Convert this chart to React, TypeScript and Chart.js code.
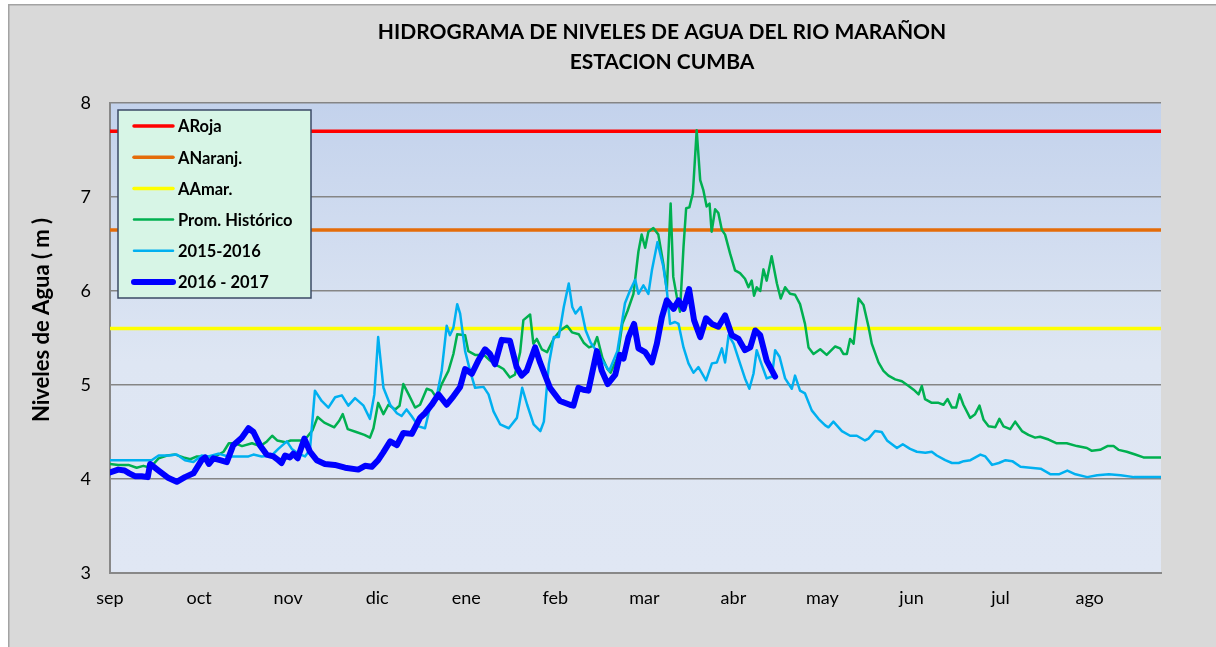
import React, { useEffect, useRef } from 'react';
import { Chart, registerables } from 'chart.js';

Chart.register(...registerables);

const W = 1216;
const H = 647;

const titleLines = ['HIDROGRAMA DE NIVELES DE AGUA DEL RIO MARAÑON', 'ESTACION CUMBA'];
const yAxisTitle = 'Niveles de Agua ( m )';
const monthLabels = ['sep', 'oct', 'nov', 'dic', 'ene', 'feb', 'mar', 'abr', 'may', 'jun', 'jul', 'ago'];
const daysPerMonthTick = 30.42;
const xMaxDay = 359;

const seriesNames = ['ARoja', 'ANaranj.', 'AAmar.', 'Prom. Histórico', '2015-2016', '2016 - 2017'];
const alertRoja = 7.7;
const alertNaranja = 6.65;
const alertAmarilla = 5.6;

// [day since 1 sep, level m]
const promHistorico: [number, number][] = [
  [0, 4.16], [2.8, 4.15], [6.3, 4.15], [9.1, 4.12], [11.4, 4.14], [13.7, 4.12], [16.6, 4.22], [19.5, 4.25],
  [22.3, 4.26], [25.1, 4.23], [27.4, 4.21], [29.7, 4.24], [32.6, 4.24], [36, 4.24], [38.8, 4.29], [40.6, 4.38],
  [42.8, 4.38], [45.1, 4.35], [48.5, 4.38], [51.3, 4.35], [53.6, 4.40], [55.4, 4.46], [57.1, 4.41], [59.9, 4.39],
  [61.7, 4.41], [65.7, 4.41], [67.4, 4.45], [69.2, 4.52], [70.9, 4.66], [73.2, 4.60], [76.6, 4.55], [78.3, 4.62],
  [79.5, 4.69], [81.2, 4.53], [84.1, 4.50], [86.9, 4.47], [88.8, 4.44], [90, 4.54], [91.6, 4.81], [93.4, 4.69],
  [95.1, 4.79], [97.4, 4.74], [98.9, 4.78], [100.2, 5.01], [102, 4.90], [104.2, 4.76], [105.9, 4.79], [108.2, 4.96],
  [109.9, 4.94], [111.6, 4.86], [113.3, 5.01], [115.6, 5.15], [117.3, 5.33], [118.6, 5.54], [121.3, 5.53], [122.4, 5.36],
  [124.7, 5.32], [126.4, 5.32], [128.1, 5.31], [129.8, 5.26], [132.7, 5.20], [134.4, 5.17], [136.6, 5.08], [138.3, 5.11],
  [140.1, 5.35], [141.2, 5.69], [143.5, 5.75], [144.6, 5.44], [145.8, 5.49], [147.5, 5.38], [149.3, 5.35], [151.5, 5.49],
  [153.8, 5.58], [156.1, 5.63], [157.8, 5.56], [160.1, 5.54], [161.8, 5.45], [163.6, 5.40], [165.3, 5.42], [166.4, 5.51],
  [168.2, 5.29], [169.9, 5.17], [171, 5.13], [173.3, 5.29], [175, 5.65], [176.8, 5.79], [178.8, 5.97], [180.5, 6.42],
  [181.6, 6.60], [182.8, 6.46], [183.9, 6.63], [185.6, 6.67], [187.3, 6.60], [189, 6.29], [190.2, 6.01], [191.5, 6.93],
  [192.4, 6.15], [193.6, 5.94], [194.7, 5.78], [195.9, 6.47], [196.8, 6.88], [197.9, 6.89], [199.1, 7.04], [200.4, 7.71],
  [201.6, 7.18], [202.7, 7.07], [203.8, 6.90], [204.8, 6.93], [205.5, 6.63], [206.7, 6.87], [207.8, 6.83], [209, 6.65],
  [210.1, 6.60], [211.8, 6.40], [213.5, 6.22], [215.2, 6.19], [216.9, 6.13], [218.1, 6.04], [219.2, 6.11], [220, 5.95],
  [220.9, 6.04], [222.1, 6.00], [223.2, 6.23], [224.3, 6.11], [226, 6.37], [227.8, 6.08], [229.1, 5.92], [230.6, 6.04],
  [232.3, 5.97], [234, 5.96], [235.7, 5.86], [237.4, 5.65], [238.6, 5.40], [240.3, 5.33], [242.6, 5.38], [244.8, 5.32],
  [247.7, 5.41], [249.4, 5.39], [250.5, 5.33], [251.7, 5.33], [252.8, 5.49], [254, 5.44], [255.7, 5.92], [257.4, 5.85],
  [259.1, 5.62], [260.2, 5.44], [262.5, 5.24], [264.2, 5.15], [265.9, 5.10], [268.2, 5.06], [270.5, 5.04], [272.8, 4.99],
  [274.5, 4.95], [276.2, 4.90], [277.3, 4.99], [278.4, 4.85], [280.7, 4.81], [283, 4.81], [284.7, 4.79], [286.1, 4.85],
  [287.6, 4.76], [289, 4.76], [290.2, 4.90], [291.5, 4.79], [293.8, 4.65], [295.5, 4.69], [297, 4.78], [298.4, 4.63],
  [300.1, 4.56], [302.4, 4.55], [303.8, 4.64], [305.2, 4.56], [307.5, 4.53], [309.2, 4.61], [311.5, 4.51], [313.7, 4.47],
  [316, 4.44], [317.7, 4.45], [320.6, 4.42], [323.4, 4.38], [326.8, 4.38], [330.3, 4.35], [333.7, 4.33], [335.4, 4.30],
  [338.2, 4.31], [340.7, 4.35], [342.8, 4.35], [344.5, 4.31], [347.3, 4.29], [350.2, 4.26], [353, 4.23], [359.1, 4.23],
];

const serie2015_2016: [number, number][] = [
  [0, 4.20], [14.2, 4.20], [16.6, 4.25], [20, 4.25], [22.8, 4.26], [25.6, 4.20], [28.5, 4.18], [31.3, 4.25],
  [33.6, 4.24], [37, 4.27], [40.4, 4.24], [43.8, 4.24], [47.3, 4.24], [49, 4.26], [51.8, 4.24], [55.2, 4.25],
  [57.5, 4.32], [60.4, 4.40], [62.1, 4.32], [64.3, 4.27], [66.6, 4.24], [68.3, 4.31], [70, 4.94], [72.3, 4.83],
  [74.6, 4.76], [76.9, 4.87], [79.2, 4.89], [81.4, 4.78], [83.7, 4.86], [86.6, 4.78], [88.8, 4.64], [90.3, 4.90],
  [91.6, 5.51], [93.4, 4.97], [95.7, 4.79], [98, 4.70], [99.6, 4.67], [101.3, 4.74], [103, 4.67], [105.4, 4.56],
  [107.6, 4.54], [109.3, 4.76], [111.6, 4.88], [113.3, 5.15], [115, 5.63], [116.1, 5.53], [117.3, 5.61], [118.6, 5.86],
  [119.6, 5.76], [121.3, 5.36], [123, 5.15], [124.7, 4.97], [127.6, 4.98], [129.3, 4.90], [131, 4.72], [133.3, 4.58],
  [136.2, 4.54], [139, 4.65], [140.8, 4.97], [142.5, 4.79], [144.7, 4.58], [147, 4.51], [148.2, 4.61], [149.9, 5.22],
  [151.6, 5.51], [153.3, 5.51], [155, 5.83], [156.7, 6.08], [157.9, 5.83], [159, 5.76], [160.8, 5.83], [162.5, 5.58],
  [164.2, 5.45], [166.5, 5.35], [168.2, 5.26], [170.5, 5.15], [173.3, 5.36], [175.9, 5.87], [177.7, 6.01], [179.4, 6.12],
  [180.5, 5.97], [182.2, 6.06], [183.9, 5.97], [185.1, 6.22], [187, 6.52], [189, 6.26], [190.2, 6.01], [191.3, 5.65],
  [193, 5.67], [194.2, 5.65], [195.9, 5.40], [197.6, 5.23], [199.3, 5.13], [201, 5.19], [203.6, 5.05], [205.6, 5.23],
  [207.3, 5.24], [209, 5.39], [210.1, 5.24], [211.3, 5.53], [213, 5.44], [215.2, 5.23], [216.9, 5.07], [218.4, 4.96],
  [219.8, 5.12], [220.9, 5.37], [222.1, 5.26], [224.3, 5.07], [226.1, 5.09], [227.2, 5.37], [228.7, 5.30], [230.6, 5.07],
  [232.9, 4.96], [234, 5.10], [235.7, 4.94], [237.4, 4.91], [239.7, 4.73], [242, 4.64], [244.3, 4.57], [245.4, 4.55],
  [247.1, 4.61], [250, 4.51], [252.8, 4.46], [255.1, 4.46], [257.9, 4.41], [259.1, 4.43], [261.3, 4.51], [263.6, 4.50],
  [265.4, 4.41], [268.8, 4.33], [270.8, 4.37], [273.3, 4.32], [275.6, 4.29], [278.5, 4.28], [280.7, 4.29], [282.4, 4.25],
  [285.3, 4.20], [287.6, 4.17], [289.9, 4.17], [291.6, 4.19], [293.9, 4.20], [297.3, 4.26], [299, 4.24], [301.3, 4.15],
  [303.6, 4.17], [305.9, 4.20], [308.2, 4.19], [311, 4.13], [314.4, 4.12], [317.9, 4.11], [321.3, 4.05], [324.1, 4.05],
  [327, 4.09], [329.8, 4.05], [333.8, 4.02], [337.2, 4.04], [341.2, 4.05], [345.2, 4.04], [349.8, 4.02], [354.3, 4.02],
  [359.2, 4.02],
];

const serie2016_2017: [number, number][] = [
  [0, 4.07], [2.8, 4.10], [5, 4.09], [6.6, 4.06], [8.5, 4.03], [10.8, 4.03], [12.9, 4.02], [13.7, 4.16],
  [16.6, 4.09], [20, 4.01], [22.8, 3.97], [25.6, 4.02], [28.5, 4.06], [31.3, 4.20], [32.5, 4.23], [33.8, 4.16],
  [35.3, 4.22], [37.6, 4.20], [39.9, 4.18], [42.1, 4.36], [45, 4.44], [47.3, 4.54], [49, 4.50], [51.2, 4.36],
  [53.5, 4.26], [55.8, 4.24], [57.5, 4.20], [58.6, 4.17], [59.8, 4.25], [61.5, 4.23], [62.6, 4.27], [64.1, 4.22],
  [66.4, 4.43], [68.3, 4.29], [70.6, 4.20], [73.4, 4.16], [76.8, 4.15], [80.3, 4.12], [84.8, 4.10], [87.1, 4.14],
  [89.4, 4.13], [91.6, 4.20], [93.3, 4.28], [95.7, 4.40], [98, 4.36], [100.2, 4.49], [103.1, 4.48], [105.9, 4.65],
  [107.6, 4.70], [109.9, 4.79], [112.2, 4.90], [115, 4.79], [117.3, 4.88], [119.6, 4.98], [121.3, 5.17], [123.6, 5.12],
  [125.8, 5.26], [128.1, 5.38], [129.8, 5.33], [131.5, 5.22], [133.8, 5.48], [136.6, 5.47], [138.9, 5.19], [140.6, 5.10],
  [142.3, 5.15], [145.2, 5.40], [146.9, 5.24], [150.3, 4.97], [153.7, 4.83], [157.1, 4.79], [158.3, 4.78], [160, 4.97],
  [161.7, 4.95], [163.4, 4.94], [166.3, 5.36], [168, 5.15], [170, 5.01], [172.6, 5.11], [174.2, 5.32], [175.4, 5.28],
  [177.1, 5.51], [179, 5.65], [180.5, 5.39], [182.8, 5.35], [185.1, 5.24], [186.8, 5.44], [188.5, 5.72], [190.2, 5.90],
  [192.5, 5.81], [194.2, 5.90], [195.9, 5.81], [197.8, 6.02], [199.5, 5.69], [201.6, 5.51], [203.6, 5.71], [205.6, 5.65],
  [207.8, 5.62], [210.1, 5.74], [212.4, 5.53], [214.7, 5.49], [216.9, 5.37], [218.7, 5.40], [220.4, 5.58], [222.1, 5.53],
  [224.3, 5.26], [227.2, 5.09],
];

const toXY = (arr: [number, number][]) => arr.map(([x, y]) => ({ x, y }));
const flatLine = (v: number) => [{ x: 0, y: v }, { x: xMaxDay, y: v }];

const decorPlugin = {
  id: 'decor',
  beforeDraw(chart: any) {
    const { ctx, chartArea } = chart;
    const { left, top, right, bottom } = chartArea;
    ctx.save();
    ctx.fillStyle = '#ffffff';
    ctx.fillRect(0, 0, W, H);
    ctx.fillStyle = '#d9d9d9';
    ctx.fillRect(9, 5, W, H);
    ctx.strokeStyle = '#a3a3a3';
    ctx.lineWidth = 1.5;
    ctx.strokeRect(8.75, 4.75, W + 10, H + 10);
    const g = ctx.createLinearGradient(0, top, 0, bottom);
    g.addColorStop(0, '#c3d2ec');
    g.addColorStop(0.55, '#dee6f3');
    g.addColorStop(1, '#e0e7f4');
    ctx.fillStyle = g;
    ctx.fillRect(left, top, right - left, bottom - top);
    ctx.fillStyle = '#000';
    ctx.textAlign = 'center';
    ctx.textBaseline = 'middle';
    ctx.font = 'bold 21px Lato';
    ctx.fillText(titleLines[0], 662, 32);
    ctx.fillText(titleLines[1], 662, 62);
    ctx.translate(42, 320);
    ctx.rotate(-Math.PI / 2);
    ctx.font = 'bold 22px Lato';
    ctx.fillText(yAxisTitle, 0, 0);
    ctx.restore();
  },
  afterDatasetsDraw(chart: any) {
    const { ctx } = chart;
    const bx = 118, by = 110, bw = 193, bh = 188;
    ctx.save();
    ctx.fillStyle = '#d7f5e6';
    ctx.fillRect(bx, by, bw, bh);
    ctx.strokeStyle = '#3b4a66';
    ctx.lineWidth = 1.5;
    ctx.strokeRect(bx, by, bw, bh);
    ctx.font = 'bold 16.5px Lato';
    ctx.textAlign = 'left';
    ctx.textBaseline = 'middle';
    chart.data.datasets.forEach((ds: any, i: number) => {
      const y = 126 + i * 31.2;
      ctx.strokeStyle = ds.borderColor;
      ctx.lineWidth = ds.borderWidth;
      ctx.lineCap = 'round';
      ctx.beginPath();
      ctx.moveTo(134, y);
      ctx.lineTo(173, y);
      ctx.stroke();
      ctx.fillStyle = '#000';
      ctx.fillText(ds.label, 178, y + 1);
    });
    ctx.restore();
  },
};

export default function App() {
  const canvasRef = useRef<HTMLCanvasElement | null>(null);

  useEffect(() => {
    const canvas = canvasRef.current;
    if (!canvas) return;
    const chart = new Chart(canvas, {
      type: 'line',
      data: {
        datasets: [
          { label: seriesNames[0], data: flatLine(alertRoja), borderColor: '#ff0000', borderWidth: 3.5, order: 3 },
          { label: seriesNames[1], data: flatLine(alertNaranja), borderColor: '#e46c0a', borderWidth: 3.5, order: 3 },
          { label: seriesNames[2], data: flatLine(alertAmarilla), borderColor: '#ffff00', borderWidth: 3.5, order: 3 },
          { label: seriesNames[3], data: toXY(promHistorico), borderColor: '#00b050', borderWidth: 2.5, order: 2 },
          { label: seriesNames[4], data: toXY(serie2015_2016), borderColor: '#00b0f0', borderWidth: 2.5, order: 1 },
          { label: seriesNames[5], data: toXY(serie2016_2017), borderColor: '#0000ff', borderWidth: 6, order: 0 },
        ] as any,
      },
      options: {
        responsive: false,
        animation: false,
        devicePixelRatio: 1,
        layout: { padding: { left: 0, top: 103, right: W - 1161, bottom: 0 } },
        elements: {
          point: { radius: 0 },
          line: { tension: 0, borderJoinStyle: 'round', borderCapStyle: 'round' },
        },
        plugins: { legend: { display: false }, tooltip: { enabled: false }, title: { display: false } },
        scales: {
          x: {
            type: 'linear',
            min: 0,
            max: xMaxDay,
            afterFit: (s: any) => { s.height = H - 573; },
            afterBuildTicks: (s: any) => {
              s.ticks = monthLabels.map((_, i) => ({ value: i * daysPerMonthTick }));
            },
            ticks: {
              autoSkip: false,
              maxRotation: 0,
              padding: 14,
              color: '#000',
              font: { family: 'Lato', size: 18 },
              callback: (_v: any, i: number) => monthLabels[i],
            },
            grid: { display: false, drawTicks: false },
            border: { display: true, color: '#888888', width: 2 },
          },
          y: {
            min: 3,
            max: 8,
            afterFit: (s: any) => { s.width = 110; },
            ticks: { stepSize: 1, padding: 19, color: '#000', font: { family: 'Lato', size: 18 } },
            grid: { color: '#858585', lineWidth: 1.5, drawTicks: false },
            border: { display: true, color: '#888888', width: 2 },
          },
        },
      } as any,
      plugins: [decorPlugin],
    });
    return () => chart.destroy();
  }, []);

  return (
    <div style={{ position: 'fixed', left: 0, top: 0, width: W, height: H }}>
      <canvas ref={canvasRef} width={W} height={H} style={{ width: W, height: H, display: 'block' }} />
    </div>
  );
}
